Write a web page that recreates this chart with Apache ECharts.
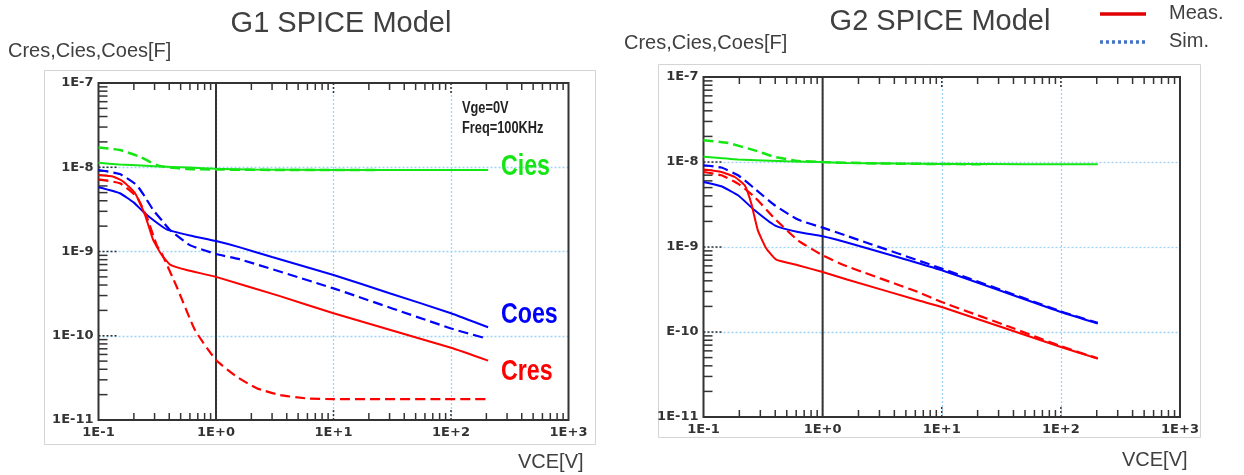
<!DOCTYPE html>
<html>
<head>
<meta charset="utf-8">
<script src="https://cdn.jsdelivr.net/npm/echarts@6/dist/echarts.min.js"></script>
<style>
html,body{margin:0;padding:0;background:#fff;}
#chart{width:1244px;height:475px;}
</style>
</head>
<body>
<div id="chart"></div>
<script>
// ---- data: [VCE (V), capacitance (F)] ----
const g1CiesMeas = [[0.1,1.13e-8],[0.15,1.08e-8],[0.3,1.03e-8],[0.6,9.9e-9],[1,9.6e-9],[2,9.4e-9],[10,9.3e-9],[50,9.3e-9],[207,9.3e-9]];
const g1CiesSim  = [[0.1,1.72e-8],[0.152,1.6e-8],[0.225,1.33e-8],[0.313,1.06e-8],[0.406,9.9e-9],[0.6,9.5e-9],[1,9.4e-9],[3,9.3e-9],[25,9.3e-9]];
const g1CoesMeas = [[0.1,5.78e-9],[0.152,4.91e-9],[0.2,3.8e-9],[0.24,2.97e-9],[0.3,2.3e-9],[0.38,1.83e-9],[0.6,1.55e-9],[1,1.33e-9],[1.6,1.12e-9],[3,8.6e-10],[10,5.26e-10],[30,3.2e-10],[100,1.85e-10],[207,1.26e-10]];
const g1CoesSim  = [[0.1,9.27e-9],[0.152,8.3e-9],[0.211,6.15e-9],[0.25,4.4e-9],[0.292,3.11e-9],[0.35,2.3e-9],[0.406,1.8e-9],[0.6,1.19e-9],[1,9.33e-10],[1.6,8.06e-10],[10,3.65e-10],[100,1.22e-10],[188,9.5e-11]];
const g1CresMeas = [[0.1,8.09e-9],[0.134,7.73e-9],[0.163,6.74e-9],[0.205,4.91e-9],[0.249,2.71e-9],[0.292,1.37e-9],[0.345,9.1e-10],[0.406,7.0e-10],[0.564,6.03e-10],[1,5.0e-10],[3.5,2.95e-10],[10,1.85e-10],[100,7.2e-11],[207,5.06e-11]];
const g1CresSim  = [[0.1,7.19e-9],[0.152,6.45e-9],[0.211,4.47e-9],[0.257,2.59e-9],[0.313,1.19e-9],[0.345,9.5e-10],[0.463,3.82e-10],[0.662,1.17e-10],[1,5.15e-11],[1.5,3.27e-11],[2.22,2.38e-11],[3.5,1.98e-11],[6,1.8e-11],[10,1.77e-11],[207,1.77e-11]];

const g2CiesMeas = [[0.1,1.15e-8],[0.195,1.07e-8],[0.5,1.02e-8],[1,1.0e-8],[1.6,9.7e-9],[10,9.5e-9],[50,9.4e-9],[204,9.4e-9]];
const g2CiesSim  = [[0.1,1.8e-8],[0.161,1.67e-8],[0.269,1.37e-8],[0.396,1.15e-8],[0.62,1.03e-8],[1,1.0e-8],[3,9.6e-9],[24,9.4e-9]];
const g2CoesMeas = [[0.1,5.82e-9],[0.141,5.18e-9],[0.195,4.06e-9],[0.269,2.7e-9],[0.396,1.8e-9],[0.62,1.5e-9],[1,1.34e-9],[1.6,1.13e-9],[10,5.32e-10],[100,1.72e-10],[204,1.26e-10]];
const g2CoesSim  = [[0.1,9.15e-9],[0.141,8.6e-9],[0.195,6.98e-9],[0.269,4.86e-9],[0.396,3.1e-9],[0.62,2.1e-9],[1,1.69e-9],[1.6,1.35e-9],[10,5.57e-10],[100,1.75e-10],[204,1.28e-10]];
const g2CresMeas = [[0.1,8.14e-9],[0.141,7.63e-9],[0.183,6.66e-9],[0.222,5.32e-9],[0.252,3.24e-9],[0.286,1.57e-9],[0.337,9.58e-10],[0.408,7.1e-10],[0.62,6.1e-10],[1,5.08e-10],[1.6,4.15e-10],[6.3,2.36e-10],[10,1.97e-10],[100,6.67e-11],[204,4.86e-11]];
const g2CresSim  = [[0.1,7.63e-9],[0.141,6.98e-9],[0.195,5.57e-9],[0.269,3.87e-9],[0.396,2.16e-9],[0.62,1.2e-9],[1,7.98e-10],[1.6,5.93e-10],[6.3,2.96e-10],[10,2.25e-10],[37,1.15e-10],[100,6.8e-11],[204,4.9e-11]];

// axis ranges and tick positions
const xRange = [0.1, 1000];
const yRange = [1e-11, 1e-7];
const xDecades = [-1, 0, 1, 2];       // minor ticks 2..9 within each decade
const yDecades = [-11, -10, -9, -8];
const minorMult = [2,3,4,5,6,7,8,9];
const gridX = [10, 100];               // dark dotted stubs at these decades
const gridY = [1e-8, 1e-9, 1e-10];

const titles = ['G1 SPICE Model', 'G2 SPICE Model'];
const yName = 'Cres,Cies,Coes[F]';
const xName = 'VCE[V]';
const legendNames = ['Meas.', 'Sim.'];
const annot = ['Vge=0V', 'Freq=100KHz'];
const curveNames = ['Cies', 'Coes', 'Cres'];

const RED = '#ff0000', BLUE = '#0000ff', GREEN = '#14e614';

function expOf(v){ return Math.round(Math.log10(v)); }
function fmtX(v){ const e = expOf(v); return '1E' + (e >= 0 ? '+' : '') + e; }
function fmtY(v){ const e = expOf(v); return '1E' + e; }
function fmtY2(v){ const e = expOf(v); return e === -10 ? 'E-10' : '1E' + e; }

const labelFont = {fontFamily: 'DejaVu Sans', fontSize: 13, fontWeight: 'bold', color: '#333'};
const splitStyle = {show: true, showMinLine: false, showMaxLine: false, lineStyle: {type: [2, 2], color: '#9fd3f5', width: 1.3}};

function makeAxes(i, yfmt){
  return {
    x: {
      type: 'log', logBase: 10, gridIndex: i, min: xRange[0], max: xRange[1], splitNumber: 4,
      axisLine: {show: false}, axisTick: {show: false}, minorTick: {show: false}, minorSplitLine: {show: false},
      axisLabel: Object.assign({formatter: fmtX, margin: 6, showMinLabel: true, showMaxLabel: true}, labelFont),
      splitLine: splitStyle
    },
    y: {
      type: 'log', logBase: 10, gridIndex: i, min: yRange[0], max: yRange[1], splitNumber: 4,
      axisLine: {show: false}, axisTick: {show: false}, minorTick: {show: false}, minorSplitLine: {show: false},
      axisLabel: Object.assign({formatter: yfmt, margin: 5, showMinLabel: true, showMaxLabel: true}, labelFont),
      splitLine: splitStyle
    }
  };
}

function curve(name, data, color, dashed, gi, width){
  return {
    name: name, type: 'line', xAxisIndex: gi, yAxisIndex: gi, data: data,
    showSymbol: false, symbol: 'none', smooth: 0.15, z: 5, silent: true,
    lineStyle: {color: color, width: width || 2, type: dashed ? [10, 5] : 'solid'}
  };
}

const ax1 = makeAxes(0, fmtY), ax2 = makeAxes(1, fmtY2);

function t(text, x, y, size, color, extra, el){
  const s = Object.assign({text: text, x: 0, y: 0, fill: color, fontSize: size, fontFamily: 'Liberation Sans', align: 'left', verticalAlign: 'middle'}, extra || {});
  return Object.assign({type: 'text', silent: true, x: x, y: y, z: 10, style: s}, el || {});
}

const option = {
  backgroundColor: '#fff',
  animation: false,
  grid: [
    {left: 98.5, top: 83, width: 470, height: 337, show: false},
    {left: 703.5, top: 77, width: 476.5, height: 340, show: false}
  ],
  xAxis: [ax1.x, ax2.x],
  yAxis: [ax1.y, ax2.y],
  series: [
    curve('G1 Cies Meas', g1CiesMeas, GREEN, false, 0),
    curve('G1 Cies Sim', g1CiesSim, GREEN, true, 0, 2.5),
    curve('G1 Coes Meas', g1CoesMeas, BLUE, false, 0),
    curve('G1 Coes Sim', g1CoesSim, BLUE, true, 0, 2.2),
    curve('G1 Cres Meas', g1CresMeas, RED, false, 0),
    curve('G1 Cres Sim', g1CresSim, RED, true, 0, 2.2),
    curve('G2 Cies Meas', g2CiesMeas, GREEN, false, 1),
    curve('G2 Cies Sim', g2CiesSim, GREEN, true, 1, 2.5),
    curve('G2 Coes Meas', g2CoesMeas, BLUE, false, 1),
    curve('G2 Coes Sim', g2CoesSim, BLUE, true, 1, 2.2),
    curve('G2 Cres Meas', g2CresMeas, RED, false, 1),
    curve('G2 Cres Sim', g2CresSim, RED, true, 1, 2.2)
  ]
};

const chart = echarts.init(document.getElementById('chart'), null, {renderer: 'canvas'});
chart.setOption(option);

// ---- frame, tick marks and details, positioned through the axes' own scales ----
const graphics = [
  {type: 'rect', silent: true, z: -1, shape: {x: 44.5, y: 70.5, width: 551, height: 374}, style: {fill: 'none', stroke: '#d4d4d4', lineWidth: 1}},
  {type: 'rect', silent: true, z: -1, shape: {x: 658.5, y: 64.5, width: 542, height: 373}, style: {fill: 'none', stroke: '#d4d4d4', lineWidth: 1}}
];
function ln(a, b, style){ graphics.push({type: 'line', silent: true, z: 3, shape: {x1: a[0], y1: a[1], x2: b[0], y2: b[1]}, style: style}); }
[0, 1].forEach(gi => {
  const px = (x, y) => chart.convertToPixel({gridIndex: gi}, [x, y]);
  const st = {stroke: '#333', lineWidth: 1.5};
  const dot = {stroke: '#333', lineWidth: 1.5, lineDash: [2, 2]};
  const bl = px(xRange[0], yRange[0]), tr = px(xRange[1], yRange[1]);
  graphics.push({type: 'rect', silent: true, z: 3,
    shape: {x: bl[0], y: tr[1], width: tr[0] - bl[0], height: bl[1] - tr[1]},
    style: {fill: 'none', stroke: '#333', lineWidth: 2}});
  xDecades.forEach(d => minorMult.forEach(m => {
    const v = m * Math.pow(10, d);
    const pb = px(v, yRange[0]), pt = px(v, yRange[1]);
    ln(pb, [pb[0], pb[1] - 7], st);
    ln(pt, [pt[0], pt[1] + 7], st);
  }));
  yDecades.forEach(d => minorMult.forEach(m => {
    const v = m * Math.pow(10, d);
    const pl = px(xRange[0], v);
    ln(pl, [pl[0] + 9, pl[1]], st);
  }));
  gridX.forEach(v => {
    const pb = px(v, yRange[0]), pt = px(v, yRange[1]);
    ln(pb, [pb[0], pb[1] - 12], dot);
    ln(pt, [pt[0], pt[1] + 10], dot);
  });
  gridY.forEach(v => {
    const pl = px(xRange[0], v);
    ln(pl, [pl[0] + 20, pl[1]], dot);
  });
  ln(px(1, yRange[0]), px(1, yRange[1]), {stroke: '#333', lineWidth: 2});
});

graphics.push(
  t(titles[0], 341, 24, 29, '#404040', {align: 'center'}),
  t(titles[1], 940, 22, 29, '#404040', {align: 'center'}),
  t(yName, 8, 51, 20, '#404040'),
  t(yName, 624, 43, 20, '#404040'),
  t(xName, 518, 462, 20, '#404040'),
  t(xName, 1122, 460, 20, '#404040'),
  {type: 'line', silent: true, shape: {x1: 1100, y1: 14, x2: 1146, y2: 14}, style: {stroke: '#e00000', lineWidth: 3.5}},
  {type: 'line', silent: true, shape: {x1: 1100, y1: 42, x2: 1146, y2: 42}, style: {stroke: '#4472c4', lineWidth: 3.5, lineDash: [3, 3]}},
  t(legendNames[0], 1169, 13, 20, '#404040'),
  t(legendNames[1], 1169, 41, 20, '#404040'),
  t(annot[0], 462, 109, 16, '#222', {fontWeight: 'bold'}, {scaleX: 0.8}),
  t(annot[1], 462, 129, 16, '#222', {fontWeight: 'bold'}, {scaleX: 0.8}),
  t(curveNames[0], 501, 167, 29, GREEN, {fontWeight: 'bold'}, {scaleX: 0.8}),
  t(curveNames[1], 501, 315, 29, BLUE, {fontWeight: 'bold'}, {scaleX: 0.8}),
  t(curveNames[2], 501, 372, 29, RED, {fontWeight: 'bold'}, {scaleX: 0.8})
);
chart.setOption({graphic: graphics});
</script>
</body>
</html>
